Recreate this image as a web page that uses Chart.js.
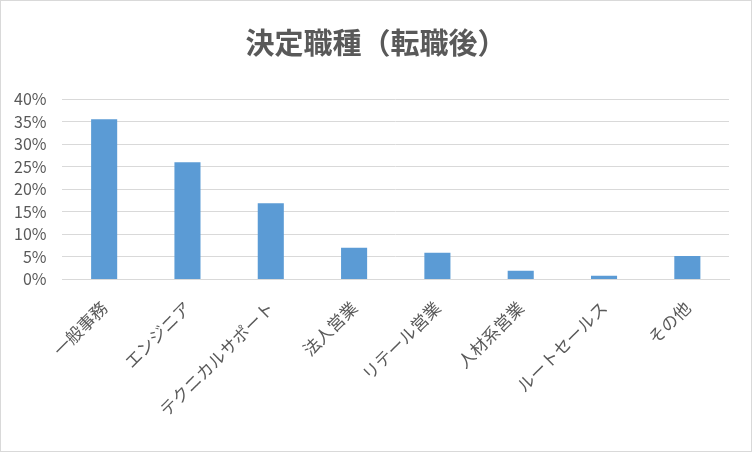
<!DOCTYPE html>
<html>
<head>
<meta charset="utf-8">
<script src="https://cdn.jsdelivr.net/npm/chart.js@4"></script>
<style>
  html, body { margin: 0; padding: 0; background: #fff; }
  #wrap { width: 750px; height: 450px; border: 1px solid #d9d9d9; position: relative; }
</style>
</head>
<body>
<div id="wrap"><canvas id="chart" width="750" height="450"></canvas></div>
<script>
// 職種とシェア（%）
const categories = ['一般事務', 'エンジニア', 'テクニカルサポート', '法人営業', 'リテール営業', '人材系営業', 'ルートセールス', 'その他'];
const shares = [35.5, 26.0, 16.9, 7.0, 5.9, 1.9, 0.8, 5.2];
const yTicks = [0, 5, 10, 15, 20, 25, 30, 35, 40];
const chartTitle = '決定職種（転職後）';

const font = '"Noto Sans CJK JP", "Noto Sans", sans-serif';
const grey = '#595959';

// タイトルはキャンバス全体の中央に描く
const centeredTitle = {
  id: 'centeredTitle',
  afterDraw(chart) {
    const c = chart.ctx;
    c.save();
    c.font = 'bold 29px ' + font;
    c.fillStyle = grey;
    c.textAlign = 'center';
    c.textBaseline = 'middle';
    c.fillText(chartTitle, chart.width / 2, 42);
    c.restore();
  },
};

const ctx = document.getElementById('chart').getContext('2d');

new Chart(ctx, {
  type: 'bar',
  data: {
    labels: categories,
    datasets: [{
      data: shares,
      backgroundColor: '#5b9bd5',
      barPercentage: 1,
      categoryPercentage: 0.313,
    }],
  },
  plugins: [centeredTitle],
  options: {
    responsive: false,
    animation: false,
    layout: { padding: { left: -3, right: 22, top: 98, bottom: 21 } },
    plugins: {
      legend: { display: false },
      tooltip: { enabled: false },
      title: { display: false },
    },
    scales: {
      x: {
        grid: { display: false },
        border: { color: '#d9d9d9' },
        ticks: {
          color: grey,
          font: { family: font, size: 17 },
          padding: 10,
          minRotation: 45,
          maxRotation: 45,
          autoSkip: false,
        },
      },
      y: {
        min: 0,
        max: 40,
        afterBuildTicks: (axis) => { axis.ticks = yTicks.map(v => ({ value: v })); },
        grid: { color: '#d9d9d9', lineWidth: 1, drawTicks: false },
        border: { display: false },
        ticks: {
          color: grey,
          font: { family: font, size: 16 },
          padding: 16,
          autoSkip: false,
          callback: (v) => v + '%',
        },
      },
    },
  },
});
</script>
</body>
</html>
